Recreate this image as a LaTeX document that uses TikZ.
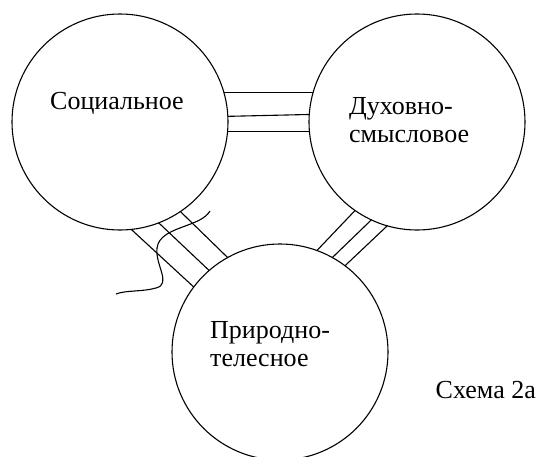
\documentclass[tikz,border=0pt]{standalone}
\usepackage{fontspec}
\setmainfont{Liberation Serif}
\newfontfamily\lblfont{Liberation Serif}
\begin{document}
\begin{tikzpicture}[x=1pt,y=-1pt,
  sphere/.style={circle,draw,line width=1.1pt,minimum size=216pt,inner sep=0pt,outer sep=0pt},
  link/.style={line width=1.1pt},
  lbl/.style={font=\lblfont\fontsize{26}{28}\selectfont,align=left,inner sep=0pt,anchor=west}]
\useasboundingbox (0,0) rectangle (547,456);
\node[sphere] (soc) at (120,122) {};
\node[sphere] (duh) at (417,122) {};
\node[sphere] (pri) at (280,352) {};
\node[lbl] (tsoc) at (50,103) {Социальное};
\node[lbl] (tduh) at (349,120) {Духовно-\\смысловое};
\node[lbl] (tpri) at (210,344) {Природно-\\телесное};
\node[lbl,anchor=east] (scheme) at (536,390) {Схема 2а};
% social -- spiritual
\draw[link] (soc.16) -- (duh.164);
\draw[link] (soc.3.7) -- (duh.176.3);
\draw[link] (soc.-5.8) -- (duh.185.8);
% social -- natural
\draw[link] (soc.-84.5) -- (pri.143.9);
\draw[link] (soc.-69.1) -- (pri.131.5);
\draw[link] (soc.-56.3) -- (pri.119.4);
% spiritual -- natural
\draw[link] (duh.-125) -- (pri.70.6);
\draw[link] (duh.-115.8) -- (pri.61.3);
\draw[link] (duh.-106) -- (pri.53.2);
% hand-drawn squiggle
\coordinate (sq1) at (210,211);
\coordinate (sq2) at (116,294);
\draw[link] (sq1) .. controls (200,228) and (160,226) .. (157,248)
  .. controls (155,265) and (172,284) .. (156,288)
  .. controls (142,292) and (126,290) .. (sq2);
\end{tikzpicture}
\end{document}
